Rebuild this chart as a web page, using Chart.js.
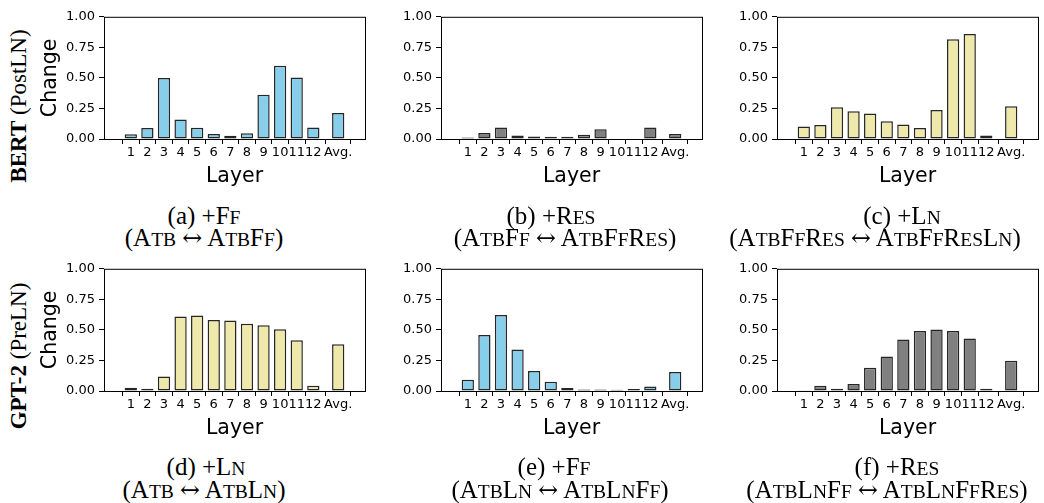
<!DOCTYPE html>
<html lang="en">
<head>
    <meta charset="UTF-8">
    <title>Layer-wise change</title>
    <script src="https://cdn.jsdelivr.net/npm/chart.js@4/dist/chart.umd.min.js"></script>
    <style>
        body {
            margin: 0;
            background: #fff;
        }
        #figure {
            position: absolute;
            left: 0;
            top: 0;
            width: 1044px;
            height: 503px;
        }
        .panel {
            position: absolute;
            width: 370px;
            height: 194px;
        }
        .caption {
            position: absolute;
            font-family: "Liberation Serif", "Times New Roman", serif;
            font-size: 25px;
            line-height: 25px;
            color: #000;
            white-space: nowrap;
            transform: translateX(-50%);
        }
        /* small capitals, a bit larger than the browser's synthetic ones */
        .s {
            font-size: 0.78em;
            text-transform: uppercase;
        }
        .arr {
            font-family: "DejaVu Serif", serif;
            font-size: 0.95em;
        }
        .rowlabel {
            position: absolute;
            font-family: "Liberation Serif", "Times New Roman", serif;
            font-size: 23px;
            line-height: 23px;
            color: #000;
            white-space: nowrap;
            transform: translate(-50%, -50%) rotate(-90deg);
        }
    </style>
</head>
<body>

<div id="figure">
    <div class="rowlabel" style="left:18px; top:106px;"><b>BERT</b> (PostLN)</div>
    <div class="rowlabel" style="left:18px; top:356px;"><b>GPT-2</b> (PreLN)</div>

    <div class="panel" style="left:0px; top:5px;"><canvas id="chartA"></canvas></div>
    <div class="panel" style="left:337px; top:5px;"><canvas id="chartB"></canvas></div>
    <div class="panel" style="left:673px; top:5px;"><canvas id="chartC"></canvas></div>
    <div class="panel" style="left:0px; top:257px;"><canvas id="chartD"></canvas></div>
    <div class="panel" style="left:337px; top:257px;"><canvas id="chartE"></canvas></div>
    <div class="panel" style="left:673px; top:257px;"><canvas id="chartF"></canvas></div>

    <div class="caption" style="left:204px; top:203px;">(a) +F<span class="s">f</span></div>
    <div class="caption" style="left:204px; top:225px;">(A<span class="s">tb</span> <span class="arr">↔</span> A<span class="s">tb</span>F<span class="s">f</span>)</div>
    <div class="caption" style="left:551px; top:203px;">(b) +R<span class="s">es</span></div>
    <div class="caption" style="left:565px; top:225px;">(A<span class="s">tb</span>F<span class="s">f</span> <span class="arr">↔</span> A<span class="s">tb</span>F<span class="s">f</span>R<span class="s">es</span>)</div>
    <div class="caption" style="left:902px; top:203px;">(c) +L<span class="s">n</span></div>
    <div class="caption" style="left:875px; top:225px;">(A<span class="s">tb</span>F<span class="s">f</span>R<span class="s">es</span> <span class="arr">↔</span> A<span class="s">tb</span>F<span class="s">f</span>R<span class="s">es</span>L<span class="s">n</span>)</div>

    <div class="caption" style="left:206px; top:454px;">(d) +L<span class="s">n</span></div>
    <div class="caption" style="left:204px; top:477px;">(A<span class="s">tb</span> <span class="arr">↔</span> A<span class="s">tb</span>L<span class="s">n</span>)</div>
    <div class="caption" style="left:554px; top:454px;">(e) +F<span class="s">f</span></div>
    <div class="caption" style="left:560px; top:477px;">(A<span class="s">tb</span>L<span class="s">n</span> <span class="arr">↔</span> A<span class="s">tb</span>L<span class="s">n</span>F<span class="s">f</span>)</div>
    <div class="caption" style="left:897px; top:454px;">(f) +R<span class="s">es</span></div>
    <div class="caption" style="left:887px; top:477px;">(A<span class="s">tb</span>L<span class="s">n</span>F<span class="s">f</span> <span class="arr">↔</span> A<span class="s">tb</span>L<span class="s">n</span>F<span class="s">f</span>R<span class="s">es</span>)</div>
</div>

<script type="text/javascript">
    const layerLabels = ['1', '2', '3', '4', '5', '6', '7', '8', '9', '10', '11', '12', 'Avg.'];
    const yTicks = [0, 0.25, 0.5, 0.75, 1];

    // BERT (PostLN)
    const bertFf  = [0.039, 0.089, 0.500, 0.160, 0.092, 0.040, 0.026, 0.047, 0.363, 0.600, 0.503, 0.095, 0.213];
    const bertRes = [0.013, 0.050, 0.095, 0.029, 0.021, 0.018, 0.018, 0.034, 0.079, 0.005, 0.005, 0.095, 0.040];
    const bertLn  = [0.103, 0.114, 0.259, 0.228, 0.209, 0.146, 0.119, 0.090, 0.238, 0.817, 0.860, 0.029, 0.267];

    // GPT-2 (PreLN)
    const gptLn  = [0.026, 0.018, 0.118, 0.610, 0.618, 0.582, 0.576, 0.550, 0.539, 0.505, 0.416, 0.042, 0.382];
    const gptFf  = [0.092, 0.459, 0.622, 0.339, 0.163, 0.076, 0.024, 0.013, 0.013, 0.010, 0.016, 0.037, 0.155];
    const gptRes = [0.003, 0.042, 0.018, 0.058, 0.190, 0.282, 0.421, 0.492, 0.503, 0.492, 0.429, 0.018, 0.247];

    const BLUE = '#87ceeb';
    const GRAY = '#808080';
    const YELLOW = '#eee8aa';

    // layers sit at 1..12, the average is set apart by half a slot
    const xPos = layerLabels.map((l, i) => i < 12 ? i + 1 : 13.5);

    // matplotlib-style box around the plot area
    const frame = {
        id: 'frame',
        afterDatasetsDraw(chart) {
            const {ctx, chartArea: a} = chart;
            ctx.save();
            ctx.strokeStyle = '#000';
            ctx.lineWidth = 1;
            ctx.strokeRect(a.left + 0.5, a.top + 0.5, a.right - a.left, a.bottom - a.top);
            ctx.restore();
        }
    };

    const tickFont = { family: 'DejaVu Sans', size: 13 };
    const titleFont = { family: 'DejaVu Sans', size: 20.5 };

    function makeChart(id, values, color, showYTitle) {
        const canvas = document.getElementById(id);
        canvas.width = 370;
        canvas.height = 194;
        return new Chart(canvas, {
            type: 'bar',
            data: {
                datasets: [{
                    data: xPos.map((x, i) => ({ x: x, y: values[i] })),
                    backgroundColor: color,
                    borderColor: '#262626',
                    borderWidth: 1.5,
                    borderSkipped: false,
                    barPercentage: 0.74,
                    categoryPercentage: 1
                }]
            },
            options: {
                responsive: false,
                animation: false,
                layout: { padding: { left: 36, top: 8, right: 5, bottom: 0 } },
                plugins: {
                    legend: { display: false },
                    tooltip: { enabled: false }
                },
                scales: {
                    x: {
                        type: 'linear',
                        min: -0.01,
                        max: 14.51,
                        afterBuildTicks: s => { s.ticks = xPos.map(v => ({ value: v })); },
                        afterFit: s => { s.height = 60; },
                        ticks: {
                            autoSkip: false,
                            maxRotation: 0,
                            padding: 1,
                            color: '#000',
                            font: tickFont,
                            callback: (v, i) => layerLabels[i]
                        },
                        grid: { drawOnChartArea: false, tickLength: 5, color: '#000', lineWidth: 1 },
                        border: { display: false },
                        title: {
                            display: true,
                            text: 'Layer',
                            color: '#000',
                            font: titleFont,
                            padding: { top: 0, bottom: 10 }
                        }
                    },
                    y: {
                        min: 0,
                        max: 1,
                        afterBuildTicks: s => { s.ticks = yTicks.map(v => ({ value: v })); },
                        afterFit: s => { s.width = 68; },
                        ticks: {
                            padding: 4,
                            color: '#000',
                            font: tickFont,
                            callback: v => v.toFixed(2)
                        },
                        grid: { drawOnChartArea: false, tickLength: 5, color: '#000', lineWidth: 1 },
                        border: { display: false },
                        title: {
                            display: showYTitle,
                            text: 'Change',
                            color: '#000',
                            font: titleFont,
                            padding: { top: 2, bottom: 0 }
                        }
                    }
                }
            },
            plugins: [frame]
        });
    }

    makeChart('chartA', bertFf, BLUE, true);
    makeChart('chartB', bertRes, GRAY, false);
    makeChart('chartC', bertLn, YELLOW, false);
    makeChart('chartD', gptLn, YELLOW, true);
    makeChart('chartE', gptFf, BLUE, false);
    makeChart('chartF', gptRes, GRAY, false);
</script>

</body>
</html>
